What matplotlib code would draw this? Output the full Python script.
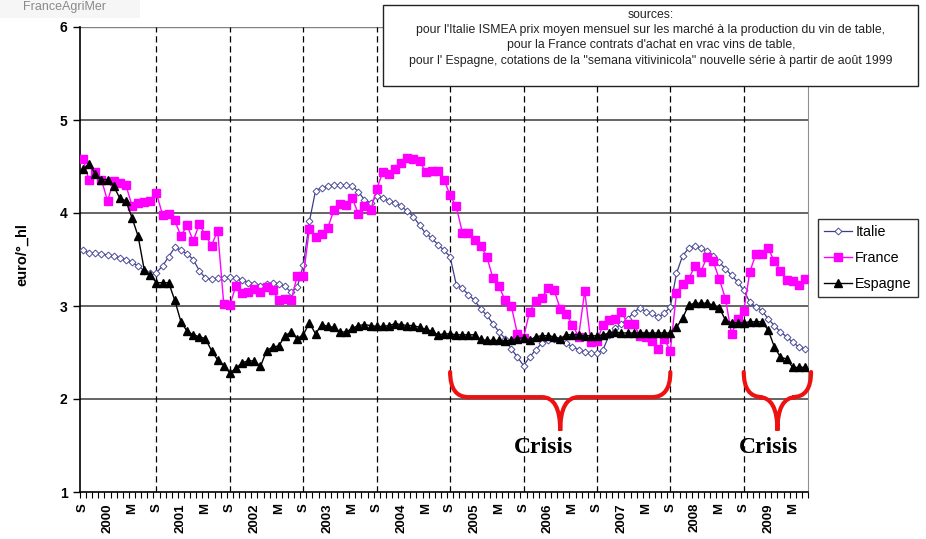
import matplotlib
matplotlib.use('Agg')
import matplotlib.pyplot as plt
from matplotlib.path import Path
from matplotlib.patches import PathPatch, Rectangle
import numpy as np

plt.rcParams['font.family'] = ['Liberation Sans', 'DejaVu Sans']

# monthly prices, Sep 1999 .. Jul 2009 (euro / degree hl)
italie = [3.60, 3.57, 3.57, 3.56, 3.55, 3.54, 3.52, 3.50, 3.47, 3.43, 3.38, 3.35,
          3.36, 3.43, 3.53, 3.63, 3.60, 3.56, 3.50, 3.38, 3.30, 3.29, 3.30, 3.30,
          3.31, 3.30, 3.28, 3.25, 3.24, 3.22, 3.24, 3.25, 3.24, 3.21, 3.15, 3.20,
          3.44, 3.91, 4.24, 4.27, 4.29, 4.30, 4.30, 4.30, 4.29, 4.23, 4.14, 4.11,
          4.18, 4.16, 4.13, 4.11, 4.07, 4.02, 3.96, 3.87, 3.78, 3.73, 3.66, 3.60,
          3.53, 3.23, 3.19, 3.12, 3.06, 2.97, 2.90, 2.81, 2.72, 2.65, 2.54, 2.45,
          2.36, 2.45, 2.53, 2.60, 2.63, 2.65, 2.63, 2.60, 2.56, 2.53, 2.51, 2.49,
          2.49, 2.53, 2.69, 2.76, 2.81, 2.86, 2.93, 2.98, 2.94, 2.92, 2.88, 2.92,
          2.99, 3.35, 3.54, 3.62, 3.65, 3.62, 3.59, 3.54, 3.47, 3.40, 3.33, 3.26,
          3.17, 3.04, 2.99, 2.95, 2.86, 2.79, 2.72, 2.67, 2.61, 2.56, 2.54]

france = [4.58, 4.35, 4.44, 4.36, 4.13, 4.34, 4.32, 4.30, 4.08, 4.11, 4.12, 4.13,
          4.21, 3.98, 3.99, 3.92, 3.75, 3.87, 3.70, 3.88, 3.76, 3.65, 3.81, 3.02,
          3.01, 3.22, 3.14, 3.15, 3.18, 3.15, 3.20, 3.17, 3.06, 3.08, 3.06, 3.32,
          3.32, 3.83, 3.74, 3.77, 3.84, 4.03, 4.10, 4.09, 4.16, 3.99, 4.08, 4.03,
          4.26, 4.44, 4.42, 4.47, 4.54, 4.59, 4.58, 4.56, 4.44, 4.45, 4.45, 4.36,
          4.19, 4.07, 3.79, 3.79, 3.71, 3.65, 3.53, 3.30, 3.21, 3.06, 3.00, 2.70,
          2.66, 2.94, 3.05, 3.09, 3.19, 3.17, 2.97, 2.91, 2.80, 2.67, 3.16, 2.61,
          2.62, 2.80, 2.85, 2.86, 2.94, 2.81, 2.81, 2.68, 2.67, 2.62, 2.54, 2.64,
          2.52, 3.14, 3.24, 3.29, 3.43, 3.37, 3.53, 3.48, 3.29, 3.08, 2.70, 2.86,
          2.95, 3.37, 3.56, 3.56, 3.62, 3.48, 3.38, 3.28, 3.27, 3.23, 3.29]

espagne = [4.47, 4.53, 4.42, 4.36, 4.36, 4.29, 4.16, 4.13, 3.95, 3.75, 3.39, 3.33,
           3.25, 3.25, 3.25, 3.06, 2.83, 2.73, 2.69, 2.67, 2.65, 2.52, 2.42, 2.36,
           2.28, 2.33, 2.39, 2.41, 2.41, 2.35, 2.52, 2.56, 2.57, 2.68, 2.72, 2.65,
           2.69, 2.82, 2.70, 2.80, 2.78, 2.77, 2.72, 2.72, 2.76, 2.79, 2.80, 2.79,
           2.78, 2.78, 2.79, 2.81, 2.80, 2.79, 2.79, 2.77, 2.75, 2.73, 2.69, 2.70,
           2.70, 2.69, 2.69, 2.69, 2.69, 2.64, 2.63, 2.63, 2.63, 2.62, 2.63, 2.65,
           2.66, 2.63, 2.67, 2.68, 2.68, 2.67, 2.65, 2.69, 2.69, 2.69, 2.68, 2.68,
           2.68, 2.69, 2.71, 2.72, 2.71, 2.71, 2.71, 2.71, 2.71, 2.71, 2.71, 2.71,
           2.71, 2.77, 2.87, 3.01, 3.03, 3.03, 3.03, 3.01, 2.98, 2.85, 2.82, 2.82,
           2.82, 2.83, 2.83, 2.83, 2.74, 2.56, 2.45, 2.43, 2.34, 2.34, 2.34]

years = ['2000', '2001', '2002', '2003', '2004', '2005', '2006', '2007', '2008', '2009']
sources = ("sources:\n"
           "pour l'Italie ISMEA prix moyen mensuel sur les marché à la production du vin de table,\n"
           "pour la France contrats d'achat en vrac vins de table,\n"
           "pour l' Espagne, cotations de la \"semana vitivinicola\" nouvelle série à partir de août 1999")

n = len(italie)
x = np.arange(n)

# tick labels every 4 months: S (sept), year (janvier), M (mai)
lab_pos = np.arange(0, n, 4)
labels = []
for k in range(len(lab_pos)):
    if k % 3 == 0:
        labels.append('S')
    elif k % 3 == 1:
        labels.append(years[k // 3])
    else:
        labels.append('M')

fig = plt.figure(figsize=(9.26, 5.39), dpi=100)
ax = fig.add_axes([80 / 926, 47 / 539, 728 / 926, 465 / 539])

for y in [2, 3, 4, 5]:
    ax.axhline(y, color='#3a3a3a', lw=1.1, zorder=1)
ax.axhline(6, color='#808080', lw=1.0, zorder=1)
for s in range(12, n, 12):
    ax.axvline(s, color='black', lw=0.9, ls=(0, (5, 3)), zorder=1)

ax.plot(x, italie, color='#3c3c8c', lw=0.9, marker='D', ms=3.5, mfc='white',
        mec='#4a4a9a', mew=0.7, label='Italie', zorder=3)
ax.plot(x, france, color='#ff00ff', lw=1.0, marker='s', ms=6, mec='#ff00ff',
        label='France', zorder=4)
ax.plot(x, espagne, color='black', lw=1.0, marker='^', ms=5.5, label='Espagne',
        zorder=5)

ax.set_xlim(-0.5, n - 0.5)
ax.set_ylim(1, 6)
ax.set_yticks([1, 2, 3, 4, 5, 6])
ax.set_yticklabels(['1', '2', '3', '4', '5', '6'], fontweight='bold', fontsize=10)
ax.tick_params(axis='y', length=5, width=1, pad=4)

ax.set_xticks(lab_pos)
ax.set_xticklabels(labels, rotation=90, fontweight='bold', fontsize=9.5, va='top', ha='center')
ax.set_xticks(np.arange(-0.5, n, 1), minor=True)
ax.tick_params(axis='x', which='major', length=0, pad=8)
ax.tick_params(axis='x', which='minor', length=4, width=0.8, direction='out')

ax.spines['top'].set_visible(False)
ax.spines['right'].set_color('#909090')
ax.spines['left'].set_linewidth(1.2)
ax.spines['bottom'].set_linewidth(1.2)

fig.text(22 / 926, 1 - 255 / 539, 'euro/°_hl', rotation=90, fontweight='bold',
         fontsize=10.5, ha='center', va='center')

# legend outside, to the right
fig.legend(loc='upper left', bbox_to_anchor=(818 / 926, 1 - 219 / 539),
           fontsize=10.3, frameon=True, fancybox=False, edgecolor='black',
           handlelength=2.0, handletextpad=0.2, labelspacing=0.85,
           borderpad=0.4, borderaxespad=0)

# sources box
fig.patches.append(Rectangle((383 / 926, 1 - 86 / 539), 535 / 926, 81 / 539,
                             transform=fig.transFigure, facecolor='white',
                             edgecolor='#222222', lw=1, zorder=10))
fig.text(651 / 926, 1 - 9 / 539, sources, ha='center', va='top', fontsize=8.8,
         linespacing=1.36, zorder=11, color='#222222')

# logo text at the top-left corner
fig.patches.append(Rectangle((0, 1 - 18 / 539), 140 / 926, 18 / 539,
                             transform=fig.transFigure, facecolor='#f6f6f6',
                             edgecolor='none', zorder=0))
fig.text(23 / 926, 1 - 1 / 539, 'FranceAgriMer', ha='left', va='top', fontsize=9,
         color='#8a8a8a')


def brace(x0, x1, xm, ytop, yflat, ytip):
    r = 3.0
    verts = [(x0, ytop), (x0, yflat), (x0 + r, yflat),
             (xm - r, yflat),
             (xm, yflat), (xm, ytip),
             (xm, yflat), (xm + r, yflat),
             (x1 - r, yflat),
             (x1, yflat), (x1, ytop)]
    codes = [Path.MOVETO, Path.CURVE3, Path.CURVE3,
             Path.LINETO,
             Path.CURVE3, Path.CURVE3,
             Path.CURVE3, Path.CURVE3,
             Path.LINETO,
             Path.CURVE3, Path.CURVE3]
    ax.add_patch(PathPatch(Path(verts, codes), facecolor='none', edgecolor='#ee1111',
                           lw=3, clip_on=False, zorder=6, capstyle='round'))


brace(60, 96, 78, 2.29, 2.02, 1.66)
brace(108, 119, 113.5, 2.29, 2.02, 1.66)
ax.text(75.3, 1.48, 'Crisis', ha='center', va='center', fontsize=17,
        fontweight='bold', family='Liberation Serif')
ax.text(112.1, 1.48, 'Crisis', ha='center', va='center', fontsize=17,
        fontweight='bold', family='Liberation Serif', clip_on=False)

fig.savefig('out.png', dpi=100)
